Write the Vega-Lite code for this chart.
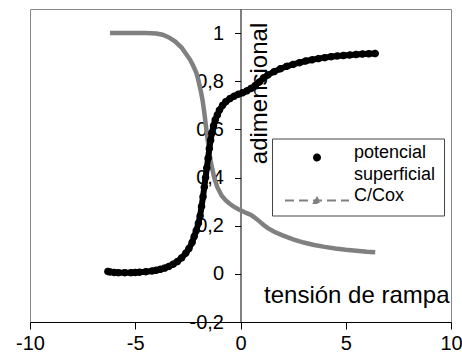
{
  "$schema": "https://vega.github.io/schema/vega-lite/v6.json",
  "width": 421,
  "height": 313,
  "autosize": "none",
  "padding": {"left": 30, "top": 9, "right": 11, "bottom": 41},
  "config": {
    "font": "Liberation Sans",
    "view": {"stroke": "#888888", "strokeWidth": 1},
    "style": {"guide-label": {"lineHeight": 22}}
  },
  "datasets": {
    "P": [
      {"x": -6.3, "y": 0.01, "s": "potencial superficial"},
      {"x": -6.2, "y": 0.008, "s": "potencial superficial"},
      {"x": -6.0, "y": 0.006, "s": "potencial superficial"},
      {"x": -5.8, "y": 0.005, "s": "potencial superficial"},
      {"x": -5.5, "y": 0.005, "s": "potencial superficial"},
      {"x": -5.2, "y": 0.005, "s": "potencial superficial"},
      {"x": -5.0, "y": 0.006, "s": "potencial superficial"},
      {"x": -4.8, "y": 0.007, "s": "potencial superficial"},
      {"x": -4.5, "y": 0.009, "s": "potencial superficial"},
      {"x": -4.2, "y": 0.012, "s": "potencial superficial"},
      {"x": -4.0, "y": 0.015, "s": "potencial superficial"},
      {"x": -3.8, "y": 0.019, "s": "potencial superficial"},
      {"x": -3.6, "y": 0.024, "s": "potencial superficial"},
      {"x": -3.4, "y": 0.031, "s": "potencial superficial"},
      {"x": -3.2, "y": 0.04, "s": "potencial superficial"},
      {"x": -3.0, "y": 0.051, "s": "potencial superficial"},
      {"x": -2.8, "y": 0.066, "s": "potencial superficial"},
      {"x": -2.6, "y": 0.086, "s": "potencial superficial"},
      {"x": -2.45, "y": 0.105, "s": "potencial superficial"},
      {"x": -2.3, "y": 0.13, "s": "potencial superficial"},
      {"x": -2.2, "y": 0.155, "s": "potencial superficial"},
      {"x": -2.1, "y": 0.18, "s": "potencial superficial"},
      {"x": -2.0, "y": 0.21, "s": "potencial superficial"},
      {"x": -1.92, "y": 0.24, "s": "potencial superficial"},
      {"x": -1.85, "y": 0.28, "s": "potencial superficial"},
      {"x": -1.78, "y": 0.32, "s": "potencial superficial"},
      {"x": -1.72, "y": 0.36, "s": "potencial superficial"},
      {"x": -1.66, "y": 0.4, "s": "potencial superficial"},
      {"x": -1.6, "y": 0.44, "s": "potencial superficial"},
      {"x": -1.54, "y": 0.48, "s": "potencial superficial"},
      {"x": -1.48, "y": 0.52, "s": "potencial superficial"},
      {"x": -1.42, "y": 0.555, "s": "potencial superficial"},
      {"x": -1.36, "y": 0.585, "s": "potencial superficial"},
      {"x": -1.28, "y": 0.615, "s": "potencial superficial"},
      {"x": -1.2, "y": 0.64, "s": "potencial superficial"},
      {"x": -1.1, "y": 0.66, "s": "potencial superficial"},
      {"x": -1.0, "y": 0.68, "s": "potencial superficial"},
      {"x": -0.85, "y": 0.7, "s": "potencial superficial"},
      {"x": -0.7, "y": 0.715, "s": "potencial superficial"},
      {"x": -0.5, "y": 0.728, "s": "potencial superficial"},
      {"x": -0.3, "y": 0.738, "s": "potencial superficial"},
      {"x": -0.1, "y": 0.746, "s": "potencial superficial"},
      {"x": 0.1, "y": 0.752, "s": "potencial superficial"},
      {"x": 0.3, "y": 0.76, "s": "potencial superficial"},
      {"x": 0.5, "y": 0.77, "s": "potencial superficial"},
      {"x": 0.7, "y": 0.782, "s": "potencial superficial"},
      {"x": 0.9, "y": 0.797, "s": "potencial superficial"},
      {"x": 1.1, "y": 0.813, "s": "potencial superficial"},
      {"x": 1.3, "y": 0.826, "s": "potencial superficial"},
      {"x": 1.6, "y": 0.84, "s": "potencial superficial"},
      {"x": 1.9, "y": 0.852, "s": "potencial superficial"},
      {"x": 2.2, "y": 0.862, "s": "potencial superficial"},
      {"x": 2.5, "y": 0.87, "s": "potencial superficial"},
      {"x": 2.8, "y": 0.877, "s": "potencial superficial"},
      {"x": 3.1, "y": 0.884, "s": "potencial superficial"},
      {"x": 3.4, "y": 0.889, "s": "potencial superficial"},
      {"x": 3.7, "y": 0.894, "s": "potencial superficial"},
      {"x": 4.0, "y": 0.898, "s": "potencial superficial"},
      {"x": 4.3, "y": 0.902, "s": "potencial superficial"},
      {"x": 4.6, "y": 0.905, "s": "potencial superficial"},
      {"x": 4.9, "y": 0.907, "s": "potencial superficial"},
      {"x": 5.2, "y": 0.909, "s": "potencial superficial"},
      {"x": 5.5, "y": 0.911, "s": "potencial superficial"},
      {"x": 5.8, "y": 0.913, "s": "potencial superficial"},
      {"x": 6.1, "y": 0.914, "s": "potencial superficial"},
      {"x": 6.4, "y": 0.915, "s": "potencial superficial"}
    ],
    "C": [
      {"x": -6.2, "y": 1.0, "s": "C/Cox"},
      {"x": -5.5, "y": 1.0, "s": "C/Cox"},
      {"x": -5.0, "y": 1.0, "s": "C/Cox"},
      {"x": -4.5, "y": 1.0, "s": "C/Cox"},
      {"x": -4.0, "y": 0.998, "s": "C/Cox"},
      {"x": -3.7, "y": 0.993, "s": "C/Cox"},
      {"x": -3.4, "y": 0.982, "s": "C/Cox"},
      {"x": -3.1, "y": 0.965, "s": "C/Cox"},
      {"x": -2.8, "y": 0.94, "s": "C/Cox"},
      {"x": -2.6, "y": 0.915, "s": "C/Cox"},
      {"x": -2.4, "y": 0.89, "s": "C/Cox"},
      {"x": -2.25, "y": 0.865, "s": "C/Cox"},
      {"x": -2.1, "y": 0.835, "s": "C/Cox"},
      {"x": -2.0, "y": 0.805, "s": "C/Cox"},
      {"x": -1.9, "y": 0.765, "s": "C/Cox"},
      {"x": -1.8, "y": 0.72, "s": "C/Cox"},
      {"x": -1.72, "y": 0.67, "s": "C/Cox"},
      {"x": -1.65, "y": 0.62, "s": "C/Cox"},
      {"x": -1.58, "y": 0.57, "s": "C/Cox"},
      {"x": -1.5, "y": 0.52, "s": "C/Cox"},
      {"x": -1.42, "y": 0.47, "s": "C/Cox"},
      {"x": -1.34, "y": 0.435, "s": "C/Cox"},
      {"x": -1.25, "y": 0.4, "s": "C/Cox"},
      {"x": -1.1, "y": 0.36, "s": "C/Cox"},
      {"x": -0.9, "y": 0.325, "s": "C/Cox"},
      {"x": -0.7, "y": 0.305, "s": "C/Cox"},
      {"x": -0.5, "y": 0.29, "s": "C/Cox"},
      {"x": -0.3, "y": 0.278, "s": "C/Cox"},
      {"x": -0.1, "y": 0.268, "s": "C/Cox"},
      {"x": 0.1, "y": 0.26, "s": "C/Cox"},
      {"x": 0.3, "y": 0.252, "s": "C/Cox"},
      {"x": 0.5, "y": 0.245, "s": "C/Cox"},
      {"x": 0.7, "y": 0.232, "s": "C/Cox"},
      {"x": 0.9, "y": 0.218, "s": "C/Cox"},
      {"x": 1.1, "y": 0.203, "s": "C/Cox"},
      {"x": 1.3, "y": 0.19, "s": "C/Cox"},
      {"x": 1.6, "y": 0.175, "s": "C/Cox"},
      {"x": 2.0, "y": 0.16, "s": "C/Cox"},
      {"x": 2.5, "y": 0.143, "s": "C/Cox"},
      {"x": 3.0, "y": 0.13, "s": "C/Cox"},
      {"x": 3.5, "y": 0.12, "s": "C/Cox"},
      {"x": 4.0, "y": 0.112, "s": "C/Cox"},
      {"x": 4.5, "y": 0.105, "s": "C/Cox"},
      {"x": 5.0, "y": 0.1, "s": "C/Cox"},
      {"x": 5.5, "y": 0.096, "s": "C/Cox"},
      {"x": 6.0, "y": 0.092, "s": "C/Cox"},
      {"x": 6.4, "y": 0.09, "s": "C/Cox"}
    ]
  },
  "encoding": {
    "x": {
      "field": "x", "type": "quantitative",
      "scale": {"domain": [-10, 10], "nice": false},
      "axis": {
        "values": [-10, -5, 0, 5, 10],
        "labelExpr": "'' + datum.value",
        "grid": false,
        "domainColor": "black", "tickColor": "black", "tickSize": 7,
        "labelFontSize": 20, "labelColor": "black", "labelPadding": 4,
        "labelFlush": false, "labelOverlap": false,
        "title": "tensión de rampa",
        "titleFontSize": 24, "titleFontWeight": "normal", "titleColor": "black",
        "titleX": 419, "titleY": -20, "titleAlign": "right", "titleBaseline": "alphabetic"
      }
    },
    "y": {
      "field": "y", "type": "quantitative",
      "scale": {"domain": [-0.2, 1.1], "nice": false},
      "axis": {
        "orient": "left", "offset": -210.5,
        "values": [-0.2, 0, 0.2, 0.4, 0.6, 0.8, 1],
        "labelExpr": "replace('' + datum.value, '.', ',')",
        "grid": false,
        "domainColor": "black", "tickColor": "black", "tickSize": 6,
        "labelFontSize": 20, "labelColor": "black", "labelPadding": 11,
        "labelFlush": false, "labelOverlap": false,
        "title": "adimensional",
        "titleFontSize": 24, "titleFontWeight": "normal", "titleColor": "black",
        "titleAngle": 270, "titleX": 19, "titleY": 84,
        "titleAlign": "center", "titleBaseline": "middle"
      }
    }
  },
  "layer": [
    {
      "data": {"name": "C"},
      "mark": {"type": "line", "color": "#808080", "strokeWidth": 4.5}
    },
    {
      "data": {"name": "P"},
      "mark": {"type": "line", "color": "black", "strokeWidth": 6}
    },
    {
      "data": {"name": "P"},
      "mark": {"type": "point", "filled": true, "size": 400, "opacity": 1, "strokeWidth": 1.5},
      "encoding": {
        "shape": {
          "field": "s", "type": "nominal",
          "scale": {"domain": ["potencial superficial", "C/Cox"], "range": ["M-0.3,0A0.3,0.3 0 1,1 0.3,0A0.3,0.3 0 1,1 -0.3,0Z", "M-3.2,0H3.2M-0.3,0.25L0,-0.25L0.3,0.25Z"]},
          "legend": {
            "orient": "none", "legendX": 242, "legendY": 129.5,
            "title": null,
            "strokeColor": "#444444",
            "padding": 8,
            "labelFontSize": 18, "labelColor": "black",
            "labelBaseline": "alphabetic",
            "symbolSize": 400, "symbolOffset": 26, "labelOffset": 26,
            "symbolStrokeWidth": 2, "symbolOpacity": 1,
            "rowPadding": 3,
            "labelExpr": "datum.value === 'potencial superficial' ? ['potencial', 'superficial'] : datum.label"
          }
        },
        "fill": {
          "field": "s", "type": "nominal",
          "scale": {"domain": ["potencial superficial", "C/Cox"], "range": ["black", "#808080"]}
        },
        "stroke": {
          "field": "s", "type": "nominal",
          "scale": {"domain": ["potencial superficial", "C/Cox"], "range": ["black", "#808080"]}
        },
        "strokeDash": {
          "field": "s", "type": "nominal",
          "scale": {"domain": ["potencial superficial", "C/Cox"], "range": [[1, 0], [9, 5]]}
        }
      }
    }
  ]
}
